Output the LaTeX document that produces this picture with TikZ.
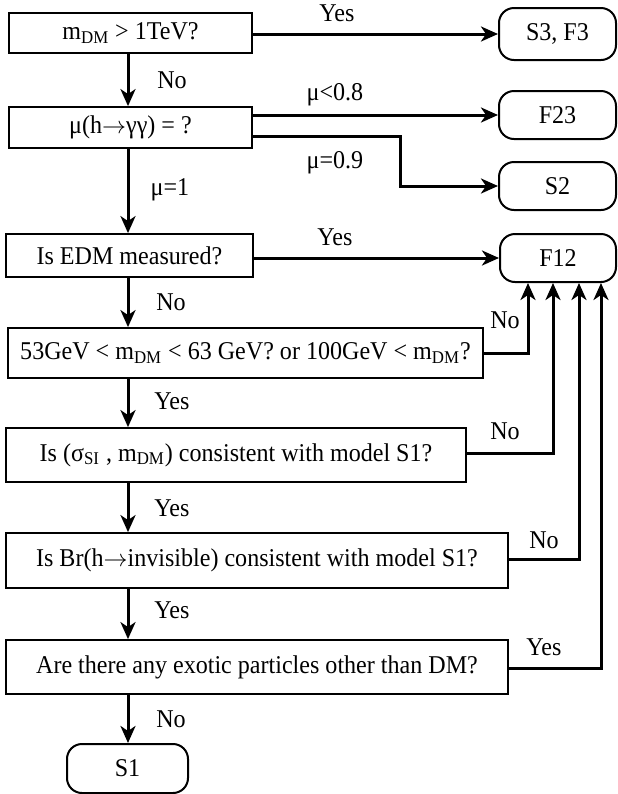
\documentclass[tikz,border=0pt]{standalone}
\usepackage{fontspec}
\setmainfont[FakeStretch=0.94]{Liberation Serif}
\usetikzlibrary{arrows.meta}
\newcommand\sbx[1]{\textsubscript{#1}}
\newcommand\harr{\ensuremath{\rightarrow}}
\begin{document}
\begin{tikzpicture}[x=0.5pt,y=-0.5pt,
  font=\fontsize{12.8}{15}\selectfont,
  qbox/.style={draw, line width=0.9pt, inner sep=0pt},
  rbox/.style={draw, line width=1pt, rounded corners=7.5pt, inner sep=0pt},
  conn/.style={line width=1.5pt, -{Stealth[length=8.5pt,width=7.5pt,inset=2.5pt]}},
  lbl/.style={inner sep=0pt}]
\useasboundingbox (0,0) rectangle (617,794);
% decision boxes
\node[qbox, minimum width=121.5pt, minimum height=20pt]  (b1)  at (130.5,33)  {m\sbx{DM} > 1TeV?};
\node[qbox, minimum width=121.5pt, minimum height=20.5pt] (b2) at (130.5,127.5) {μ(h\harr γγ) = ?};
\node[qbox, minimum width=123.5pt, minimum height=21.5pt] (edm) at (129.5,255.5) {Is EDM measured?};
\node[qbox, minimum width=237.5pt, minimum height=25pt] (g53) at (245.5,353) {53GeV < m\sbx{DM} < 63 GeV? or 100GeV < m\sbx{DM}?};
\node[qbox, minimum width=230pt, minimum height=27pt] (si) at (236,455) {Is (σ\sbx{SI} , m\sbx{DM}) consistent with model S1?};
\node[qbox, minimum width=251pt, minimum height=27.5pt] (br) at (257,560.5) {Is Br(h\harr invisible) consistent with model S1?};
\node[qbox, minimum width=251pt, minimum height=27pt] (ex) at (257,667) {Are there any exotic particles other than DM?};
% result boxes
\node[rbox, minimum width=58.5pt, minimum height=26pt] (s3) at (557.5,34) {S3, F3};
\node[rbox, minimum width=58.5pt, minimum height=24pt] (f23) at (557.5,115) {F23};
\node[rbox, minimum width=58.5pt, minimum height=24pt] (s2) at (557.5,186) {S2};
\node[rbox, minimum width=58pt, minimum height=24pt] (f12) at (558,258) {F12};
\node[rbox, minimum width=60.5pt, minimum height=24.5pt] (s1) at (127.5,768.5) {S1};
% helper coordinates
\coordinate (ax) at (128,0);
\coordinate (k1) at (400,136);
\coordinate (c1) at (528,0);
\coordinate (c2) at (553,0);
\coordinate (c3) at (579,0);
\coordinate (c4) at (601,0);
\coordinate (y2) at (0,453);
\coordinate (y3) at (0,559);
\coordinate (y4) at (0,668);
% vertical chain
\draw[conn] (b1.south -| ax) -- (b2.north -| ax);
\draw[conn] (b2.south -| ax) -- (edm.north -| ax);
\draw[conn] (edm.south -| ax) -- (g53.north -| ax);
\draw[conn] (g53.south -| ax) -- (si.north -| ax);
\draw[conn] (si.south -| ax) -- (br.north -| ax);
\draw[conn] (br.south -| ax) -- (ex.north -| ax);
\draw[conn] (ex.south -| ax) -- (s1.north -| ax);
% right branches
\draw[conn] (b1.east |- s3.west) -- (s3.west);
\draw[conn] (b2.east |- f23.west) -- (f23.west);
\draw[conn] (b2.east |- k1) -- (k1) |- (s2.west);
\draw[conn] (edm.east |- f12.west) -- (f12.west);
\draw[conn] (g53.east) -| (f12.south -| c1);
\draw[conn] (si.east |- y2) -| (f12.south -| c2);
\draw[conn] (br.east |- y3) -| (f12.south -| c3);
\draw[conn] (ex.east |- y4) -| (f12.south -| c4);
% labels
\node[lbl] (l1) at (337,13) {Yes};
\node[lbl] (l2) at (172,80) {No};
\node[lbl] (l3) at (335,95) {μ<0.8};
\node[lbl] (l4) at (335,163) {μ=0.9};
\node[lbl] (l5) at (170,190) {μ=1};
\node[lbl] (l6) at (335,237) {Yes};
\node[lbl] (l7) at (171,302) {No};
\node[lbl] (l8) at (505,320) {No};
\node[lbl] (l9) at (172,401) {Yes};
\node[lbl] (l10) at (505,431) {No};
\node[lbl] (l11) at (172,508) {Yes};
\node[lbl] (l12) at (544,540) {No};
\node[lbl] (l13) at (172,610) {Yes};
\node[lbl] (l14) at (544,647) {Yes};
\node[lbl] (l15) at (171,719) {No};
\end{tikzpicture}
\end{document}
